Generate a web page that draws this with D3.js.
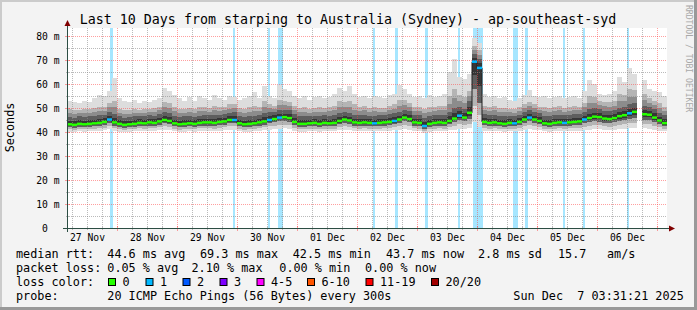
<!DOCTYPE html>
<html>
<head>
<meta charset="utf-8">
<script src="https://cdn.jsdelivr.net/npm/d3@7"></script>
<style>
  html, body { margin: 0; padding: 0; background: #f3f3f3; }
  svg { display: block; font-family: "DejaVu Sans Mono", monospace; }
</style>
</head>
<body>
<svg id="chart" width="697" height="310"></svg>
<script>
// ---------- data (2 h buckets starting 27 Nov 04:00) ----------
const startTime = Date.UTC(2025, 10, 27, 4, 0, 0);
const stepHours = 2;
const spanHours = 240;

// median rtt per bucket (ms)
const medianMs = [
  43.2,43.0,43.4,43.2,43.4,43.6,43.8,44.2,45.2,44.0, 43.4,43.0,43.2,43.4,43.8,43.6,44.0,43.8,44.4,45.0,
  44.6,43.6,43.2,43.4,43.6,43.4,43.8,44.0,44.0,43.8, 44.2,44.4,45.0,45.0,43.6,43.2,43.4,43.6,44.0,44.4,
  45.0,45.4,46.0,46.2,45.8,44.2,43.4,43.4,43.6,43.8, 43.4,43.8,43.6,43.8,44.6,45.2,44.8,44.0,43.8,44.0,
  43.8,43.6,43.8,44.0,44.2,44.6,45.2,46.0,45.4,44.0, 43.8,42.5,43.4,43.8,44.0,43.8,44.6,45.6,46.8,46.0,
  48.0,69.3,66.7,44.2,43.8,44.0,43.6,43.4,43.8,43.6, 44.2,45.2,46.0,45.2,44.6,43.6,43.4,43.8,44.0,43.8,
  44.0,44.2,44.4,45.2,45.8,46.4,46.2,45.6,45.4,45.8, 46.6,47.0,47.8,48.4,null,47.4,47.2,46.0,44.8,43.7
];
// smoke: highest ping
const smokeHi = [
  53.0,52.5,52.0,53.0,52.5,54.0,55.5,55.0,57.0,62.5, 54.0,53.0,52.5,53.5,52.0,53.0,52.5,53.5,54.0,58.5,
  57.0,55.5,54.0,53.0,54.5,53.0,55.0,54.0,53.5,55.5, 54.0,53.5,55.0,54.5,53.5,54.0,55.0,56.5,54.0,59.0,
  55.0,54.0,59.5,58.0,57.0,55.0,54.0,55.0,53.5,54.5, 55.0,54.0,54.5,56.0,58.5,57.0,59.0,56.0,54.5,55.0,
  54.0,55.0,54.5,54.0,55.5,56.0,59.5,58.0,56.0,54.5, 55.0,54.0,55.5,54.5,55.0,56.0,65.0,70.5,63.0,62.0,
  64.0,79.0,77.0,56.0,54.5,55.0,54.0,54.5,53.5,53.0, 54.0,55.5,57.5,55.0,54.5,55.0,54.0,54.5,55.0,54.0,
  54.5,55.0,54.0,57.0,61.5,60.0,56.0,55.5,56.0,57.0, 63.0,61.0,66.5,64.0,null,61.5,58.0,57.0,56.5,55.0
];
// smoke: upper decile
const smokeP90 = [
  49.5,49.0,49.0,49.5,49.5,50.0,50.5,50.5,52.0,53.0, 49.5,49.0,49.0,49.5,49.0,49.5,49.5,50.0,50.5,52.5,
  52.0,50.5,49.5,49.5,50.0,49.5,50.5,50.5,50.0,51.0, 50.5,50.5,51.5,51.5,50.0,49.5,50.5,51.0,50.5,53.0,
  51.5,51.0,53.5,53.0,52.5,51.0,50.0,50.5,49.5,50.0, 50.5,50.0,50.5,51.0,53.0,52.5,53.0,51.5,50.5,51.0,
  50.0,50.5,50.0,50.0,51.0,51.5,53.5,53.5,52.0,50.5, 50.5,49.5,50.5,50.5,51.0,51.0,55.0,58.0,55.5,54.5,
  57.0,76.0,74.0,51.0,50.5,51.0,50.0,50.0,49.5,49.5, 50.5,51.5,52.5,51.5,50.5,50.5,50.0,50.5,51.0,50.0,
  50.5,51.0,50.5,52.0,55.0,54.5,53.0,52.5,52.5,53.0, 56.0,55.5,58.0,57.5,null,56.0,54.0,53.0,52.0,50.5
];
// smoke: upper quartile
const smokeP75 = [
  46.2,46.0,46.5,46.2,46.5,46.8,47.0,47.2,48.5,47.5, 46.5,46.0,46.2,46.5,46.8,46.6,47.0,46.8,47.5,48.2,
  47.8,46.8,46.2,46.5,46.8,46.4,46.8,47.0,47.0,47.0, 47.2,47.5,48.0,48.2,46.8,46.2,46.5,46.8,47.0,47.8,
  48.2,48.5,49.0,49.2,49.0,47.5,46.5,46.5,46.6,46.8, 46.5,47.0,46.8,47.0,47.8,48.2,48.0,47.2,47.0,47.2,
  46.8,46.8,47.0,47.0,47.4,47.8,48.5,49.2,48.6,47.2, 47.0,46.0,46.5,47.0,47.2,47.0,48.5,50.0,50.5,49.5,
  53.0,72.5,70.5,47.5,47.0,47.2,46.8,46.5,46.8,46.6, 47.2,48.2,49.0,48.4,47.8,46.8,46.5,47.0,47.2,47.0,
  47.2,47.5,47.6,48.5,49.5,49.8,49.5,48.8,48.6,49.0, 50.0,50.5,51.5,52.0,null,51.0,50.5,49.5,48.0,47.0
];
// smoke: lower quartile
const smokeP25 = [
  41.9,41.7,42.1,41.9,42.1,42.3,42.5,42.9,43.8,42.7, 42.1,41.7,41.9,42.1,42.5,42.3,42.7,42.5,43.0,43.6,
  43.2,42.3,41.9,42.1,42.3,42.1,42.5,42.7,42.7,42.5, 42.9,43.0,43.6,43.6,42.3,41.9,42.1,42.3,42.7,43.0,
  43.6,44.0,44.5,44.7,44.3,42.9,42.1,42.1,42.3,42.5, 42.1,42.5,42.3,42.5,43.2,43.8,43.4,42.7,42.5,42.7,
  42.5,42.3,42.5,42.7,42.9,43.2,43.8,44.5,44.0,42.7, 42.5,41.3,42.1,42.5,42.7,42.5,43.2,44.0,45.0,44.5,
  45.5,58.0,52.0,42.9,42.5,42.7,42.3,42.1,42.5,42.3, 42.9,43.8,44.5,43.8,43.2,42.3,42.1,42.5,42.7,42.5,
  42.7,42.9,43.0,43.6,44.0,44.5,44.3,43.8,43.6,44.0, 44.5,45.0,45.5,46.0,null,45.2,45.0,44.2,43.2,42.4
];
// smoke: lowest ping
const smokeLo = [
  40.2,40.0,40.4,40.2,40.3,40.4,40.6,40.8,41.2,40.6, 40.2,40.0,40.2,40.3,40.6,40.4,40.6,40.5,40.8,41.0,
  40.8,40.3,40.0,40.2,40.3,40.2,40.5,40.6,40.6,40.4, 40.6,40.8,41.0,41.0,40.3,40.0,40.2,40.3,40.6,40.8,
  41.0,41.2,41.4,41.5,41.2,40.6,40.2,40.2,40.3,40.4, 40.2,40.4,40.3,40.4,40.8,41.0,40.8,40.5,40.4,40.5,
  40.4,40.3,40.4,40.5,40.6,40.8,41.0,41.2,41.0,40.5, 40.4,39.6,40.2,40.4,40.5,40.4,40.8,41.0,41.4,41.2,
  41.5,44.0,42.0,40.6,40.4,40.5,40.3,40.2,40.4,40.3, 40.6,41.0,41.2,41.0,40.8,40.3,40.2,40.4,40.5,40.4,
  40.5,40.6,40.6,40.8,41.0,41.2,41.2,41.0,40.8,41.0, 41.2,41.4,41.6,41.8,null,41.6,41.4,41.0,40.6,40.4
];
// buckets whose median carries 1/20 loss
const lossOneBuckets = [8,33,40,42,61,65,71,78,81,82,89,92,99,103,112];
// loss background bars: [hours from start, duration hours]
const lossBars = [
  [17.2,1.2],[66.4,0.8],[80.4,0.8],[84.4,2.0],[122.4,0.8],[131.2,1.2],[143.2,1.2],
  [156.4,0.8],[162.4,4.0],[178.4,2.0],[183.2,1.2],[198.4,0.8],[206.4,0.8],[224.0,0.8]
];

// axes
const yTicks = [0,10,20,30,40,50,60,70,80];
const xTickDays = ['2025-11-27','2025-11-28','2025-11-29','2025-11-30','2025-12-01',
                   '2025-12-02','2025-12-03','2025-12-04','2025-12-05','2025-12-06'];

// legend
const titleText = 'Last 10 Days from starping to Australia (Sydney) - ap-southeast-syd';
const rttStats = [['44.6 ms avg',107.3],['69.3 ms max',200],['42.5 ms min',292.7],['43.7 ms now',386],['2.8 ms sd',478],['15.7',558],['am/s',607]];
const lossStats = [['0.05 % avg',107.3],['2.10 % max',191.5],['0.00 % min',279.3],['0.00 % now',365]];
const lossLabels = ['0','1','2','3','4-5','6-10','11-19','20/20'];
const lossColors = ['#26ff00','#00b8ff','#0059ff','#7e00ff','#ff00ff','#ff5500','#ff0000','#a10000'];
const lossBoxX = [108,145.5,182.5,219.5,256.5,307,365.5,431];
const probeText = '20 ICMP Echo Pings (56 Bytes) every 300s';
const stampText = 'Sun Dec\u00a0\u00a07 03:31:21 2025';

// ---------- layout ----------
const W = 697, H = 310;
const P = { left: 67, right: 667, top: 28, bottom: 228 };
const HOUR = 3600e3;

const x = d3.scaleUtc()
  .domain([new Date(startTime), new Date(startTime + spanHours * HOUR)])
  .range([P.left, P.right]);
const y = d3.scaleLinear().domain([0, 200 / 2.4]).range([P.bottom, P.top]);

const svg = d3.select('#chart');

// background + shaded frame
svg.append('rect').attr('width', W).attr('height', H).attr('fill', '#f3f3f3');
svg.append('path').attr('d', `M0,1H${W}M1,0V${H}`).attr('stroke', '#cbcbcb').attr('stroke-width', 2);
svg.append('path').attr('d', `M0,${H - 1.5}H${W}M${W - 1.5},0V${H}`).attr('stroke', '#999999').attr('stroke-width', 3);

// canvas
svg.append('rect')
  .attr('x', P.left).attr('y', P.top)
  .attr('width', P.right - P.left).attr('height', P.bottom - P.top)
  .attr('fill', '#ffffff');

// loss background bars
svg.append('g').selectAll('rect').data(lossBars).join('rect')
  .attr('x', (d) => x(new Date(startTime + d[0] * HOUR)))
  .attr('width', (d) => x(new Date(startTime + (d[0] + d[1]) * HOUR)) - x(new Date(startTime + d[0] * HOUR)))
  .attr('y', P.top).attr('height', P.bottom - P.top)
  .attr('fill', '#00b8ff').attr('opacity', 0.35);

// rows
const rows = medianMs.map((m, i) => ({
  t: new Date(startTime + i * stepHours * HOUR),
  t2: new Date(startTime + (i + 1) * stepHours * HOUR),
  m, hi: smokeHi[i], p90: smokeP90[i], p75: smokeP75[i], p25: smokeP25[i], lo: smokeLo[i],
  loss: lossOneBuckets.includes(i) ? 1 : 0,
}));
const valid = rows.filter((r) => r.m != null);

// smoke (outer to inner)
const bands = [
  { a: (r) => r.lo, b: (r) => r.hi, c: '#dddddd' },
  { a: (r) => (r.lo + r.p25) / 2, b: (r) => r.p90, c: '#b4b4b4' },
  { a: (r) => r.p25, b: (r) => (r.p75 + r.p90) / 2, c: '#8c8c8c' },
  { a: (r) => r.p25, b: (r) => r.p75, c: '#5e5e5e' },
  { a: (r) => (r.p25 + r.m) / 2, b: (r) => (r.m + r.p75) / 2, c: '#363636' },
];
const smoke = svg.append('g').attr('shape-rendering', 'crispEdges');
bands.forEach((band) => {
  smoke.append('g').selectAll('rect').data(valid).join('rect')
    .attr('x', (d) => x(d.t))
    .attr('width', (d) => x(d.t2) - x(d.t))
    .attr('y', (d) => y(band.b(d)))
    .attr('height', (d) => y(band.a(d)) - y(band.b(d)))
    .attr('fill', band.c);
});

// grid
const grid = svg.append('g').attr('shape-rendering', 'crispEdges');
const gridMinor = 'rgba(140,140,140,0.6)';
const gridMajor = 'rgba(255,64,64,0.5)';
const sixHours = d3.utcHour.every(6).range(x.domain()[0], x.domain()[1]);
sixHours.forEach((t) => {
  const major = t.getUTCHours() === 0;
  const px = Math.round(x(t)) + 0.5;
  grid.append('line')
    .attr('x1', px).attr('x2', px).attr('y1', P.top).attr('y2', P.bottom)
    .attr('stroke', major ? gridMajor : gridMinor).attr('stroke-dasharray', '1,1');
  grid.append('line')
    .attr('x1', px).attr('x2', px)
    .attr('y1', major ? P.bottom - 2 : P.bottom - 1).attr('y2', major ? P.bottom + 3 : P.bottom + 2)
    .attr('stroke', major ? gridMajor : gridMinor);
});
d3.range(5, 85, 5).forEach((v) => {
  const major = v % 10 === 0;
  const py = Math.round(y(v)) + 0.5;
  grid.append('line')
    .attr('x1', P.left).attr('x2', P.right).attr('y1', py).attr('y2', py)
    .attr('stroke', major ? gridMajor : gridMinor).attr('stroke-dasharray', '1,1');
  grid.append('line')
    .attr('x1', major ? P.left - 2 : P.left - 1).attr('x2', major ? P.left + 3 : P.left + 2)
    .attr('y1', py).attr('y2', py)
    .attr('stroke', major ? gridMajor : gridMinor);
});

// median: thin black step line, then loss-coloured bands
const stepPts = [];
rows.forEach((r) => { stepPts.push({ t: r.t, v: r.m }); stepPts.push({ t: r.t2, v: r.m }); });
const medLine = d3.line().defined((d) => d.v != null).x((d) => x(d.t)).y((d) => y(d.v));
svg.append('path')
  .attr('d', medLine(stepPts))
  .attr('fill', 'none').attr('stroke', '#202020').attr('stroke-width', 1);
svg.append('g').selectAll('rect').data(valid).join('rect')
  .attr('x', (d) => x(d.t))
  .attr('width', (d) => x(d.t2) - x(d.t))
  .attr('y', (d) => y(d.m) - 1.25)
  .attr('height', 2.5)
  .attr('fill', (d) => lossColors[d.loss]);

// axes lines + arrows
const axisColor = '#2c4d43';
svg.append('line').attr('x1', P.left - 4).attr('x2', P.right + 5)
  .attr('y1', P.bottom + 0.5).attr('y2', P.bottom + 0.5).attr('stroke', axisColor);
svg.append('line').attr('x1', P.left + 0.5).attr('x2', P.left + 0.5)
  .attr('y1', P.bottom + 4).attr('y2', P.top - 5).attr('stroke', axisColor);
svg.append('path').attr('d', `M${P.right + 8},${P.bottom + 0.5}L${P.right + 2},${P.bottom - 2.5}L${P.right + 2},${P.bottom + 3.5}Z`).attr('fill', '#800000');
svg.append('path').attr('d', `M${P.left + 0.5},${P.top - 8}L${P.left - 2.5},${P.top - 2}L${P.left + 3.5},${P.top - 2}Z`).attr('fill', '#800000');

// tick labels
const xAxis = d3.axisBottom(x)
  .tickValues(xTickDays.map((d) => new Date(d + 'T12:00:00Z')))
  .tickFormat(d3.utcFormat('%d %b'))
  .tickSize(0).tickPadding(6);
const gx = svg.append('g').attr('transform', `translate(0,${P.bottom})`).call(xAxis);
gx.select('.domain').remove();
gx.attr('font-family', '"DejaVu Sans Mono", monospace').attr('font-size', 9.7);
gx.selectAll('text').attr('fill', '#000');

const yAxis = d3.axisLeft(y)
  .tickValues(yTicks)
  .tickFormat((v) => (v === 0 ? '0\u00a0\u00a0' : v + ' m'))
  .tickSize(0).tickPadding(7.5);
const gy = svg.append('g').attr('transform', `translate(${P.left},0)`).call(yAxis);
gy.select('.domain').remove();
gy.attr('font-family', '"DejaVu Sans Mono", monospace').attr('font-size', 9.7);
gy.selectAll('text').attr('fill', '#000').attr('dy', '0.36em');

// title + axis title + watermark
svg.append('text').attr('x', 348).attr('y', 24).attr('text-anchor', 'middle')
  .attr('font-size', 13.3).attr('fill', '#000').text(titleText);
svg.append('text').attr('transform', 'translate(14,127.5) rotate(-90)')
  .attr('text-anchor', 'middle').attr('font-size', 11.8).attr('fill', '#000').text('Seconds');
svg.append('text').attr('transform', 'translate(686,5) rotate(90)')
  .attr('font-size', 8.1).attr('fill', '#a8a8a8').text('RRDTOOL / TOBI OETIKER');

// legend
const leg = svg.append('g').attr('font-size', 11.8).attr('fill', '#000');
const rowY = [257.5, 271.6, 285.7, 299.8];
leg.append('text').attr('x', 16).attr('y', rowY[0]).text('median rtt:');
rttStats.forEach(([s, px]) => leg.append('text').attr('x', px).attr('y', rowY[0]).text(s));
leg.append('text').attr('x', 16).attr('y', rowY[1]).text('packet loss:');
lossStats.forEach(([s, px]) => leg.append('text').attr('x', px).attr('y', rowY[1]).text(s));
leg.append('text').attr('x', 16).attr('y', rowY[2]).text('loss color:');
lossLabels.forEach((lab, i) => {
  svg.append('rect')
    .attr('x', lossBoxX[i] + 0.5).attr('y', 278.5).attr('width', 7).attr('height', 7)
    .attr('fill', lossColors[i]).attr('stroke', '#000').attr('stroke-width', 1);
  leg.append('text').attr('x', lossBoxX[i] + 14.5).attr('y', rowY[2]).text(lab);
});
leg.append('text').attr('x', 16).attr('y', rowY[3]).text('probe:');
leg.append('text').attr('x', 107.3).attr('y', rowY[3]).text(probeText);
leg.append('text').attr('x', 513.3).attr('y', rowY[3]).text(stampText);
</script>
</body>
</html>
